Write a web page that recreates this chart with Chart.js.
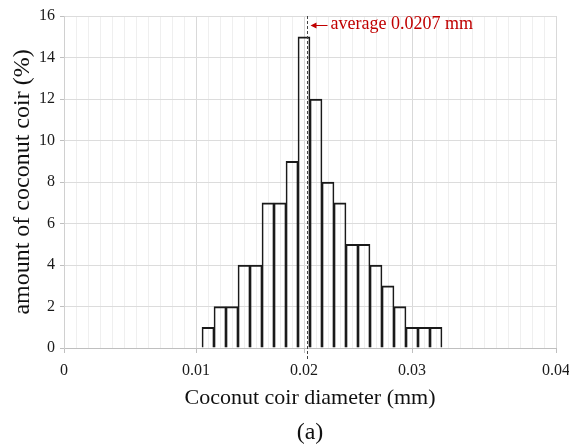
<!DOCTYPE html>
<html>
<head>
<meta charset="utf-8">
<script src="https://cdn.jsdelivr.net/npm/chart.js@4/dist/chart.umd.min.js"></script>
<style>
html,body{margin:0;padding:0;background:#ffffff;}
#wrap{width:569px;height:445px;position:relative;}
</style>
</head>
<body>
<div id="wrap"><canvas id="c" width="569" height="445"></canvas></div>
<script>
// Category bins of the diameter axis (only some carry a printed label)
const categories = [
  '0','','','','','','','','','','',
  '0.01','','','','','','','','',
  '0.02','','','','','','','','',
  '0.03','','','','','','','','','','','',
  '0.04'
];
// amount of coconut coir (%) per bin
const amounts = [
  null,null,null,null,null,null,null,null,null,null,null,null,
  1,2,2,4,4,7,7,9,15,12,8,7,5,5,4,3,2,1,1,1,
  null,null,null,null,null,null,null,null,null,null
];
const yTicks = [0,2,4,6,8,10,12,14,16];
const averageLabel = 'average 0.0207 mm';
const averageBin = 20.25;   // where the average marker sits along the bins
const xTitle = 'Coconut coir diameter (mm)';
const yTitle = 'amount of coconut coir (%)';
const caption = '(a)';

const FONT = "'Liberation Serif', 'Times New Roman', serif";

const averagePlugin = {
  id: 'averageMarker',
  afterDatasetsDraw(chart) {
    const ctx = chart.ctx;
    const xs = chart.scales.x, ys = chart.scales.y;
    const i0 = Math.floor(averageBin);
    const p0 = xs.getPixelForValue(i0), p1 = xs.getPixelForValue(i0 + 1);
    const px = Math.round(p0 + (averageBin - i0) * (p1 - p0)) + 0.5;
    ctx.save();
    ctx.strokeStyle = '#444444';
    ctx.lineWidth = 1;
    ctx.setLineDash([3, 2]);
    ctx.beginPath();
    ctx.moveTo(px, ys.top);
    ctx.lineTo(px, ys.bottom + 12);
    ctx.stroke();
    ctx.setLineDash([]);
    const ay = ys.top + 9.5;
    ctx.strokeStyle = '#c00000';
    ctx.fillStyle = '#c00000';
    ctx.lineWidth = 1;
    ctx.beginPath();
    ctx.moveTo(px + 20, ay);
    ctx.lineTo(px + 7, ay);
    ctx.stroke();
    ctx.beginPath();
    ctx.moveTo(px + 3, ay);
    ctx.lineTo(px + 9, ay - 3);
    ctx.lineTo(px + 9, ay + 3);
    ctx.closePath();
    ctx.fill();
    ctx.font = "18px " + FONT;
    ctx.textBaseline = 'middle';
    ctx.textAlign = 'left';
    ctx.fillText(averageLabel, px + 23, ay - 1);
    ctx.restore();
  }
};

new Chart(document.getElementById('c'), {
  type: 'bar',
  data: {
    labels: categories,
    datasets: [{
      data: amounts,
      backgroundColor: 'rgba(255,255,255,0)',
      borderColor: '#1a1a1a',
      borderWidth: {top: 1.5, left: 1, right: 1, bottom: 0},
      borderSkipped: 'bottom',
      barPercentage: 1,
      categoryPercentage: 1
    }]
  },
  options: {
    responsive: false,
    devicePixelRatio: 1,
    animation: false,
    events: [],
    layout: {padding: {top: 16, right: 13, left: 0, bottom: 0}},
    plugins: {
      legend: {display: false},
      tooltip: {enabled: false},
      title: {
        display: true,
        position: 'bottom',
        fullSize: false,
        text: caption,
        color: '#111111',
        font: {family: FONT, size: 24, weight: 'normal', lineHeight: 1.0},
        padding: {top: 12, bottom: 0}
      }
    },
    scales: {
      x: {
        type: 'category',
        offset: false,
        grid: {
          offset: false,
          color: c => (categories[c.index] !== '' ? '#d9d9d9' : '#efefef'),
          tickColor: c => (categories[c.index] !== '' ? '#bfbfbf' : 'rgba(0,0,0,0)'),
          tickLength: 5,
          lineWidth: 1
        },
        border: {color: '#bfbfbf', width: 1},
        ticks: {
          autoSkip: false,
          maxRotation: 0,
          minRotation: 0,
          padding: 8,
          color: '#1a1a1a',
          font: {family: FONT, size: 16}
        },
        title: {
          display: true,
          text: xTitle,
          color: '#111111',
          font: {family: FONT, size: 22, lineHeight: 1.0},
          padding: {top: 0, bottom: 0}
        },
        afterFit(s) { s.height = 61; s.paddingLeft = 0; s.paddingRight = 0; }
      },
      y: {
        min: 0,
        max: 16,
        afterBuildTicks(s) { s.ticks = yTicks.map(v => ({value: v})); },
        grid: {color: '#dcdcdc', tickColor: '#bfbfbf', tickLength: 4, lineWidth: 1},
        border: {color: '#d0d0d0', width: 1},
        ticks: {
          padding: 5,
          color: '#1a1a1a',
          font: {family: FONT, size: 16}
        },
        title: {
          display: true,
          text: yTitle,
          color: '#111111',
          font: {family: FONT, size: 24, lineHeight: 1.2},
          padding: {top: 8, bottom: 0}
        },
        afterFit(s) { s.width = 64; s.paddingTop = 0; s.paddingBottom = 0; }
      }
    }
  },
  plugins: [averagePlugin]
});
</script>
</body>
</html>
